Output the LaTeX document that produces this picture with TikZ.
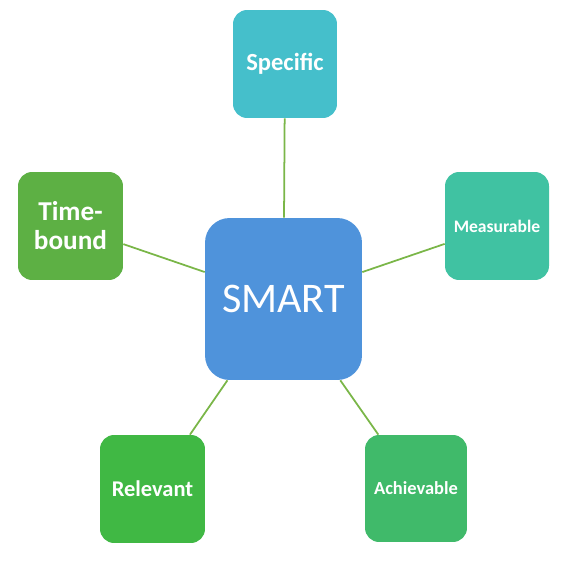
\documentclass[tikz,border=0pt]{standalone}
\usepackage{fontspec}
\setmainfont{Carlito}
\definecolor{smartblue}{HTML}{4F93DB}
\definecolor{specteal}{HTML}{45BFCB}
\definecolor{measteal}{HTML}{40C2A2}
\definecolor{achvgreen}{HTML}{40BA6A}
\definecolor{relvgreen}{HTML}{40B844}
\definecolor{timegreen}{HTML}{5DB044}
\definecolor{linkgreen}{HTML}{7AB648}
\tikzset{
  goalbox/.style={rounded corners=8pt, text=white, font=\bfseries,
    minimum width=2.08cm, minimum height=2.16cm, align=center, inner sep=0pt},
  link/.style={linkgreen, line width=1pt}
}
\begin{document}
\begin{tikzpicture}[x=0.02cm, y=-0.02cm]
      \useasboundingbox (0,0) rectangle (574,567);

      % Caixa central
      \node[rounded corners=14pt, fill=smartblue, text=white, font=\fontsize{24}{28}\selectfont,
        minimum width=3.14cm, minimum height=3.24cm] (smart) at (283.5,299) {SMART};

      % Caixas em volta
      \node[goalbox, fill=specteal, font=\bfseries\fontsize{14}{17}\selectfont] (spec) at (285,64) {Specific};
      \node[goalbox, fill=measteal, font=\bfseries\fontsize{10}{12}\selectfont] (meas) at (497,226) {Measurable};
      \node[goalbox, fill=achvgreen, font=\bfseries\fontsize{10.5}{12}\selectfont,
        minimum width=2.04cm, minimum height=2.14cm] (achv) at (416,488.5) {Achievable};
      \node[goalbox, fill=relvgreen, font=\bfseries\fontsize{12.8}{15}\selectfont,
        minimum width=2.1cm] (relv) at (152.5,489) {Relevant};
      \node[goalbox, fill=timegreen, font=\bfseries\fontsize{15.5}{16.5}\selectfont,
        minimum width=2.1cm] (time) at (70.5,226) {Time-\\bound};

      % Ligacoes
      \draw[link] (spec) -- (smart);
      \draw[link] (meas) -- (smart);
      \draw[link] (achv) -- (smart);
      \draw[link] (relv) -- (smart);
      \draw[link] (time) -- (smart);

    \end{tikzpicture}
\end{document}
